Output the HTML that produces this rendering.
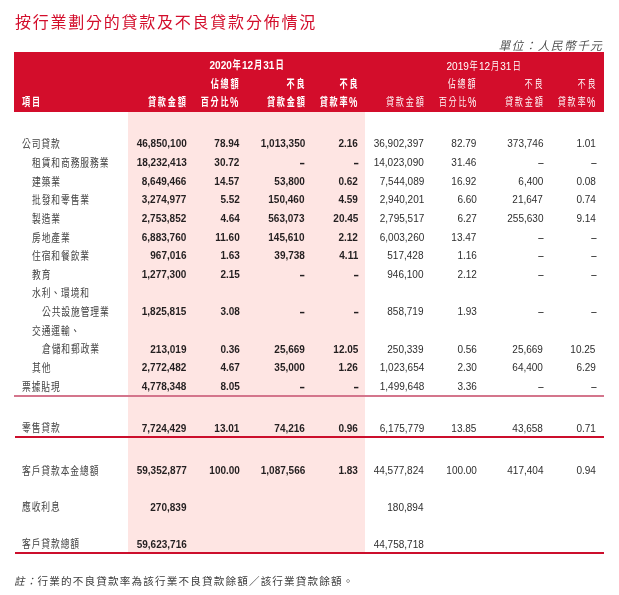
<!DOCTYPE html>
<html lang="zh-Hant"><head><meta charset="utf-8"><title>按行業劃分的貸款及不良貸款分佈情況</title>
<style>
html,body{margin:0;padding:0;background:#fff}
body{width:619px;height:595px;position:relative;overflow:hidden;font-family:"Liberation Sans","Noto Sans CJK TC",sans-serif;color:#3a3a3a}
div{position:absolute;white-space:nowrap}
.title{left:15px;top:11px;font-size:16px;line-height:24px;letter-spacing:1.76px;color:#d30d2b;font-weight:400}
.unit{right:17.1px;top:38.7px;font-size:11.8px;line-height:14px;letter-spacing:1.3px;font-style:italic;color:#484848;font-weight:350;margin-right:-1.3px}
.hdr{left:14.3px;top:52.4px;width:589.3px;height:60.1px;background:#d30d2b}
.pink{left:128px;top:112.4px;width:236.5px;height:441px;background:#fee5e3}
.l1{left:14.3px;top:395.2px;width:589.3px;height:1.4px;background:#d4758c}
.l2{left:14.5px;top:436.25px;width:589.1px;height:1.5px;background:#cc0e2c}
.l3{left:14.5px;top:552.25px;width:589.1px;height:1.5px;background:#cc0e2c}
.lb{font-size:11.4px;line-height:14px;font-weight:400;color:#444;letter-spacing:1.17px;transform:scaleX(.77);transform-origin:left center}
.n{font-size:11.75px;line-height:14px;color:#2e2e2e;transform:scaleX(.852);transform-origin:right center}
.n.b{font-weight:700;color:#231f20}
.n.d{transform:scale(.81,1.15);margin-right:-0.4px}
.n.b.d{transform:scale(.75,1.2);margin-top:1px;margin-right:0}
.h{font-size:11.6px;line-height:14px;color:#fff;letter-spacing:2.54px;margin-right:-1.78px;transform:scaleX(.70);transform-origin:right center;font-weight:350}
.h.hb{font-weight:700}
.h.hb .pc,.h.hb.hc{font-weight:700}
.h.hc{font-size:11.7px;letter-spacing:0;margin:0;text-align:center;transform:scaleX(.86);transform-origin:center center}
.h.hc span{display:inline-block;transform:scaleX(.83)}
.h.hl{transform-origin:left center}
.h .pc{position:absolute;left:100%;top:0;font-size:14px;letter-spacing:0;margin-left:-0.5px;font-weight:400;transform:scaleX(.96);transform-origin:left center}
.note{left:14px;top:574px;font-size:10.6px;line-height:14px;letter-spacing:1.15px;color:#3e3e3e;font-weight:400}
.note i{font-style:italic}
</style></head><body>
<div class="title">按行業劃分的貸款及不良貸款分佈情況</div>
<div class="unit">單位：人民幣千元</div>
<div class="hdr"></div>
<div class="pink"></div>
<div class="l1"></div><div class="l2"></div><div class="l3"></div>
<div class="lb" style="left:22.1px;top:137.20px">公司貸款</div>
<div class="n b" style="right:432.7px;top:136.40px">46,850,100</div>
<div class="n b" style="right:379.4px;top:136.40px">78.94</div>
<div class="n b" style="right:314.2px;top:136.40px">1,013,350</div>
<div class="n b" style="right:260.8px;top:136.40px">2.16</div>
<div class="n" style="right:195.2px;top:136.40px">36,902,397</div>
<div class="n" style="right:142.5px;top:136.40px">82.79</div>
<div class="n" style="right:75.7px;top:136.40px">373,746</div>
<div class="n" style="right:23.3px;top:136.40px">1.01</div>
<div class="lb" style="left:32.3px;top:155.86px">租賃和商務服務業</div>
<div class="n b" style="right:432.7px;top:155.06px">18,232,413</div>
<div class="n b" style="right:379.4px;top:155.06px">30.72</div>
<div class="n b d" style="right:314.2px;top:155.06px">–</div>
<div class="n b d" style="right:260.8px;top:155.06px">–</div>
<div class="n" style="right:195.2px;top:155.06px">14,023,090</div>
<div class="n" style="right:142.5px;top:155.06px">31.46</div>
<div class="n d" style="right:75.7px;top:155.06px">–</div>
<div class="n d" style="right:23.3px;top:155.06px">–</div>
<div class="lb" style="left:32.3px;top:174.52px">建築業</div>
<div class="n b" style="right:432.7px;top:173.72px">8,649,466</div>
<div class="n b" style="right:379.4px;top:173.72px">14.57</div>
<div class="n b" style="right:314.2px;top:173.72px">53,800</div>
<div class="n b" style="right:260.8px;top:173.72px">0.62</div>
<div class="n" style="right:195.2px;top:173.72px">7,544,089</div>
<div class="n" style="right:142.5px;top:173.72px">16.92</div>
<div class="n" style="right:75.7px;top:173.72px">6,400</div>
<div class="n" style="right:23.3px;top:173.72px">0.08</div>
<div class="lb" style="left:32.3px;top:193.18px">批發和零售業</div>
<div class="n b" style="right:432.7px;top:192.38px">3,274,977</div>
<div class="n b" style="right:379.4px;top:192.38px">5.52</div>
<div class="n b" style="right:314.2px;top:192.38px">150,460</div>
<div class="n b" style="right:260.8px;top:192.38px">4.59</div>
<div class="n" style="right:195.2px;top:192.38px">2,940,201</div>
<div class="n" style="right:142.5px;top:192.38px">6.60</div>
<div class="n" style="right:75.7px;top:192.38px">21,647</div>
<div class="n" style="right:23.3px;top:192.38px">0.74</div>
<div class="lb" style="left:32.3px;top:211.84px">製造業</div>
<div class="n b" style="right:432.7px;top:211.04px">2,753,852</div>
<div class="n b" style="right:379.4px;top:211.04px">4.64</div>
<div class="n b" style="right:314.2px;top:211.04px">563,073</div>
<div class="n b" style="right:260.8px;top:211.04px">20.45</div>
<div class="n" style="right:195.2px;top:211.04px">2,795,517</div>
<div class="n" style="right:142.5px;top:211.04px">6.27</div>
<div class="n" style="right:75.7px;top:211.04px">255,630</div>
<div class="n" style="right:23.3px;top:211.04px">9.14</div>
<div class="lb" style="left:32.3px;top:230.50px">房地產業</div>
<div class="n b" style="right:432.7px;top:229.70px">6,883,760</div>
<div class="n b" style="right:379.4px;top:229.70px">11.60</div>
<div class="n b" style="right:314.2px;top:229.70px">145,610</div>
<div class="n b" style="right:260.8px;top:229.70px">2.12</div>
<div class="n" style="right:195.2px;top:229.70px">6,003,260</div>
<div class="n" style="right:142.5px;top:229.70px">13.47</div>
<div class="n d" style="right:75.7px;top:229.70px">–</div>
<div class="n d" style="right:23.3px;top:229.70px">–</div>
<div class="lb" style="left:32.3px;top:249.16px">住宿和餐飲業</div>
<div class="n b" style="right:432.7px;top:248.36px">967,016</div>
<div class="n b" style="right:379.4px;top:248.36px">1.63</div>
<div class="n b" style="right:314.2px;top:248.36px">39,738</div>
<div class="n b" style="right:260.8px;top:248.36px">4.11</div>
<div class="n" style="right:195.2px;top:248.36px">517,428</div>
<div class="n" style="right:142.5px;top:248.36px">1.16</div>
<div class="n d" style="right:75.7px;top:248.36px">–</div>
<div class="n d" style="right:23.3px;top:248.36px">–</div>
<div class="lb" style="left:32.3px;top:267.82px">教育</div>
<div class="n b" style="right:432.7px;top:267.02px">1,277,300</div>
<div class="n b" style="right:379.4px;top:267.02px">2.15</div>
<div class="n b d" style="right:314.2px;top:267.02px">–</div>
<div class="n b d" style="right:260.8px;top:267.02px">–</div>
<div class="n" style="right:195.2px;top:267.02px">946,100</div>
<div class="n" style="right:142.5px;top:267.02px">2.12</div>
<div class="n d" style="right:75.7px;top:267.02px">–</div>
<div class="n d" style="right:23.3px;top:267.02px">–</div>
<div class="lb" style="left:32.3px;top:286.48px">水利、環境和</div>
<div class="lb" style="left:42.4px;top:305.14px">公共設施管理業</div>
<div class="n b" style="right:432.7px;top:304.34px">1,825,815</div>
<div class="n b" style="right:379.4px;top:304.34px">3.08</div>
<div class="n b d" style="right:314.2px;top:304.34px">–</div>
<div class="n b d" style="right:260.8px;top:304.34px">–</div>
<div class="n" style="right:195.2px;top:304.34px">858,719</div>
<div class="n" style="right:142.5px;top:304.34px">1.93</div>
<div class="n d" style="right:75.7px;top:304.34px">–</div>
<div class="n d" style="right:23.3px;top:304.34px">–</div>
<div class="lb" style="left:32.3px;top:323.80px">交通運輸、</div>
<div class="lb" style="left:42.4px;top:342.46px">倉儲和郵政業</div>
<div class="n b" style="right:432.7px;top:341.66px">213,019</div>
<div class="n b" style="right:379.4px;top:341.66px">0.36</div>
<div class="n b" style="right:314.2px;top:341.66px">25,669</div>
<div class="n b" style="right:260.8px;top:341.66px">12.05</div>
<div class="n" style="right:195.2px;top:341.66px">250,339</div>
<div class="n" style="right:142.5px;top:341.66px">0.56</div>
<div class="n" style="right:75.7px;top:341.66px">25,669</div>
<div class="n" style="right:23.3px;top:341.66px">10.25</div>
<div class="lb" style="left:32.3px;top:361.12px">其他</div>
<div class="n b" style="right:432.7px;top:360.32px">2,772,482</div>
<div class="n b" style="right:379.4px;top:360.32px">4.67</div>
<div class="n b" style="right:314.2px;top:360.32px">35,000</div>
<div class="n b" style="right:260.8px;top:360.32px">1.26</div>
<div class="n" style="right:195.2px;top:360.32px">1,023,654</div>
<div class="n" style="right:142.5px;top:360.32px">2.30</div>
<div class="n" style="right:75.7px;top:360.32px">64,400</div>
<div class="n" style="right:23.3px;top:360.32px">6.29</div>
<div class="lb" style="left:22.1px;top:379.78px">票據貼現</div>
<div class="n b" style="right:432.7px;top:378.98px">4,778,348</div>
<div class="n b" style="right:379.4px;top:378.98px">8.05</div>
<div class="n b d" style="right:314.2px;top:378.98px">–</div>
<div class="n b d" style="right:260.8px;top:378.98px">–</div>
<div class="n" style="right:195.2px;top:378.98px">1,499,648</div>
<div class="n" style="right:142.5px;top:378.98px">3.36</div>
<div class="n d" style="right:75.7px;top:378.98px">–</div>
<div class="n d" style="right:23.3px;top:378.98px">–</div>
<div class="lb" style="left:22.1px;top:421.30px">零售貸款</div>
<div class="n b" style="right:432.7px;top:420.50px">7,724,429</div>
<div class="n b" style="right:379.4px;top:420.50px">13.01</div>
<div class="n b" style="right:314.2px;top:420.50px">74,216</div>
<div class="n b" style="right:260.8px;top:420.50px">0.96</div>
<div class="n" style="right:195.2px;top:420.50px">6,175,779</div>
<div class="n" style="right:142.5px;top:420.50px">13.85</div>
<div class="n" style="right:75.7px;top:420.50px">43,658</div>
<div class="n" style="right:23.3px;top:420.50px">0.71</div>
<div class="lb" style="left:22.1px;top:463.50px">客戶貸款本金總額</div>
<div class="n b" style="right:432.7px;top:462.50px">59,352,877</div>
<div class="n b" style="right:379.4px;top:462.50px">100.00</div>
<div class="n b" style="right:314.2px;top:462.50px">1,087,566</div>
<div class="n b" style="right:260.8px;top:462.50px">1.83</div>
<div class="n" style="right:195.2px;top:462.50px">44,577,824</div>
<div class="n" style="right:142.5px;top:462.50px">100.00</div>
<div class="n" style="right:75.7px;top:462.50px">417,404</div>
<div class="n" style="right:23.3px;top:462.50px">0.94</div>
<div class="lb" style="left:22.1px;top:500.20px">應收利息</div>
<div class="n b" style="right:432.7px;top:499.60px">270,839</div>
<div class="n" style="right:195.2px;top:499.60px">180,894</div>
<div class="lb" style="left:22.1px;top:537.00px">客戶貸款總額</div>
<div class="n b" style="right:432.7px;top:536.80px">59,623,716</div>
<div class="n" style="right:195.2px;top:536.80px">44,758,718</div>
<div class="h hb" style="right:433.0px;top:95.30px">貸款金額</div>
<div class="h hb" style="right:380.5px;top:76.70px">佔總額</div>
<div class="h hb" style="right:390.2px;top:95.30px">百分比<span class="pc">%</span></div>
<div class="h hb" style="right:314.5px;top:76.70px">不良</div>
<div class="h hb" style="right:314.5px;top:95.30px">貸款金額</div>
<div class="h hb" style="right:261.8px;top:76.70px">不良</div>
<div class="h hb" style="right:271.5px;top:95.30px">貸款率<span class="pc">%</span></div>
<div class="h" style="right:195.2px;top:95.30px">貸款金額</div>
<div class="h" style="right:143.0px;top:76.70px">佔總額</div>
<div class="h" style="right:152.7px;top:95.30px">百分比<span class="pc">%</span></div>
<div class="h" style="right:76.4px;top:76.70px">不良</div>
<div class="h" style="right:76.4px;top:95.30px">貸款金額</div>
<div class="h" style="right:23.8px;top:76.70px">不良</div>
<div class="h" style="right:33.5px;top:95.30px">貸款率<span class="pc">%</span></div>
<div class="h hb hc" style="left:146.6px;width:200px;top:58.00px">2020<span>年</span>12<span>月</span>31<span>日</span></div>
<div class="h hc" style="left:384.4px;width:200px;top:58.80px">2019<span>年</span>12<span>月</span>31<span>日</span></div>
<div class="h hb hl" style="left:22.1px;top:95.30px">項目</div>
<div class="note"><i>註：</i>行業的不良貸款率為該行業不良貸款餘額／該行業貸款餘額。</div>
</body></html>
